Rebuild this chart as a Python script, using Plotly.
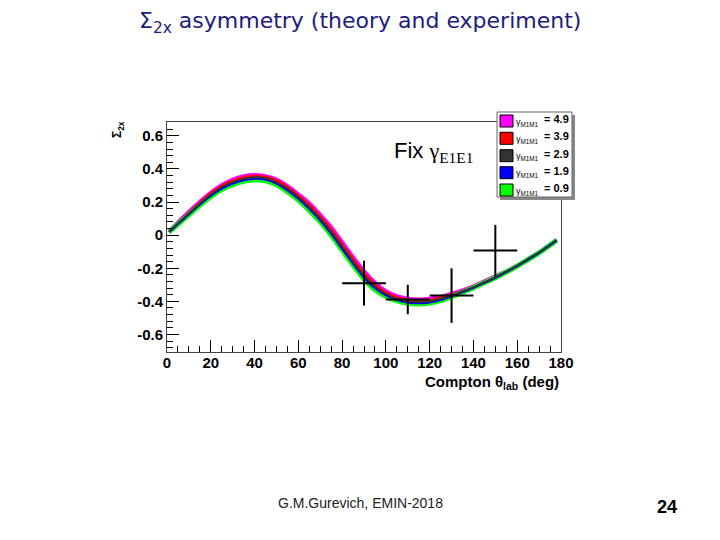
import plotly.graph_objects as go

# ---------------- data ----------------
theta = [1, 5, 10, 15, 20, 25, 30, 35, 40, 45, 50, 55, 60, 65, 70, 75, 80, 85, 90,
         95, 100, 105, 110, 115, 120, 125, 130, 135, 140, 145, 150, 155, 160, 165,
         170, 175, 178]

sig_m49 = [0.02, 0.075, 0.14, 0.20, 0.255, 0.30, 0.335, 0.355, 0.362, 0.355, 0.335,
           0.295, 0.245, 0.19, 0.12, 0.045, -0.045, -0.135, -0.22, -0.29, -0.34,
           -0.37, -0.385, -0.39, -0.385, -0.375, -0.355, -0.335, -0.31, -0.28,
           -0.25, -0.22, -0.185, -0.145, -0.105, -0.06, -0.03]
sig_m39 = [0.02, 0.072, 0.135, 0.195, 0.25, 0.295, 0.328, 0.348, 0.356, 0.35, 0.328,
           0.288, 0.238, 0.18, 0.11, 0.032, -0.058, -0.148, -0.232, -0.30, -0.348,
           -0.378, -0.392, -0.398, -0.393, -0.38, -0.36, -0.338, -0.312, -0.283,
           -0.253, -0.22, -0.185, -0.145, -0.105, -0.06, -0.03]
sig_m29 = [0.02, 0.07, 0.13, 0.19, 0.245, 0.29, 0.32, 0.34, 0.35, 0.345, 0.32,
           0.28, 0.23, 0.17, 0.10, 0.02, -0.07, -0.16, -0.245, -0.31, -0.355,
           -0.385, -0.40, -0.405, -0.40, -0.385, -0.365, -0.34, -0.315, -0.285,
           -0.255, -0.22, -0.185, -0.145, -0.105, -0.06, -0.03]
sig_m19 = [0.02, 0.068, 0.128, 0.186, 0.24, 0.283, 0.314, 0.334, 0.343, 0.338, 0.313,
           0.272, 0.222, 0.16, 0.09, 0.01, -0.08, -0.17, -0.255, -0.32, -0.362,
           -0.39, -0.405, -0.41, -0.405, -0.39, -0.368, -0.343, -0.317, -0.287,
           -0.256, -0.222, -0.186, -0.146, -0.106, -0.06, -0.03]
sig_m09 = [0.02, 0.065, 0.123, 0.18, 0.232, 0.275, 0.305, 0.325, 0.333, 0.328, 0.305,
           0.263, 0.212, 0.15, 0.08, 0.0, -0.09, -0.18, -0.265, -0.33, -0.37,
           -0.397, -0.412, -0.416, -0.41, -0.395, -0.372, -0.346, -0.318, -0.288,
           -0.257, -0.223, -0.187, -0.147, -0.107, -0.06, -0.03]

series_labels = ["4.9", "3.9", "2.9", "1.9", "0.9"]
series_colors = ["#ff00ff", "#ff0000", "#333333", "#0000ff", "#00ff00"]

exp_theta = [90, 110, 130, 150]
exp_sigma = [-0.29, -0.389, -0.365, -0.093]
exp_dtheta = [10, 10, 10, 10]
exp_dsigma = [0.135, 0.089, 0.165, 0.155]

y_ticks = [-0.6, -0.4, -0.2, 0, 0.2, 0.4, 0.6]
y_ticktext = ["-0.6", "-0.4", "-0.2", "0", "0.2", "0.4", "0.6"]
x_ticks = [0, 20, 40, 60, 80, 100, 120, 140, 160, 180]

# ---------------- figure ----------------
fig = go.Figure()

curves = {"4.9": sig_m49, "3.9": sig_m39, "2.9": sig_m29, "1.9": sig_m19, "0.9": sig_m09}
draw_order = ["4.9", "3.9", "0.9", "1.9", "2.9"]
widths = {"4.9": 4.5, "3.9": 3, "0.9": 5, "1.9": 2.5, "2.9": 1.8}
for lab in draw_order:
    col = series_colors[series_labels.index(lab)]
    fig.add_trace(go.Scatter(x=theta, y=curves[lab], mode="lines",
                             line=dict(color=col, width=widths[lab], shape="spline"),
                             showlegend=False, hoverinfo="skip"))

fig.add_trace(go.Scatter(
    x=exp_theta, y=exp_sigma, mode="markers", marker=dict(size=1, color="black"),
    error_x=dict(type="data", array=exp_dtheta, color="black", thickness=2, width=0),
    error_y=dict(type="data", array=exp_dsigma, color="black", thickness=2, width=0),
    showlegend=False, hoverinfo="skip"))

FONT = "Liberation Sans"
OFF = 8            # page body margin
W, H = 704, 524
PL, PR, PT, PB = 167, 561, 122, 352   # plot frame in screen pixels
fig.update_layout(
    width=W, height=H,
    margin=dict(l=PL - OFF, r=(W + OFF) - PR, t=PT - OFF, b=(H + OFF) - PB,
                autoexpand=False),
    paper_bgcolor="white", plot_bgcolor="white",
    showlegend=False,
    xaxis=dict(range=[0, 180], tickvals=x_ticks, ticks="inside", ticklen=12,
               tickcolor="black", tickwidth=1, ticklabelstandoff=-3,
               minor=dict(dtick=5, ticks="inside", ticklen=6, tickcolor="black"),
               showgrid=False, zeroline=False, showline=True, linecolor="#444",
               linewidth=1, mirror=True,
               tickfont=dict(family=FONT, size=15, color="black", weight="bold")),
    yaxis=dict(range=[-0.706, 0.684], tickvals=y_ticks, ticktext=y_ticktext,
               ticks="inside", ticklen=12, tickcolor="black", tickwidth=1,
               minor=dict(dtick=0.04, tick0=0, ticks="inside", ticklen=6, tickcolor="black"),
               showgrid=False, zeroline=False, showline=True, linecolor="#444",
               linewidth=1, mirror=True,
               tickfont=dict(family=FONT, size=15, color="black", weight="bold")),
)

def px2x(px):
    return (px - PL) / (PR - PL)

def py2y(py):
    return (PB - py) / (PB - PT)

ann = []
# title
ann.append(dict(x=px2x(360), y=py2y(22), xref="paper", yref="paper",
                text="Σ<sub>2x</sub> asymmetry (theory and experiment)",
                showarrow=False, xanchor="center", yanchor="middle",
                font=dict(family="DejaVu Sans", size=22, color="#1c1c7c")))
# y title
ann.append(dict(x=px2x(118), y=py2y(130), xref="paper", yref="paper",
                text="<b>Σ<sub>2x</sub></b>", textangle=-90, showarrow=False,
                xanchor="center", yanchor="middle",
                font=dict(family=FONT, size=12, color="black")))
# x title
ann.append(dict(x=px2x(561), y=py2y(382), xref="paper", yref="paper",
                text="<b>Compton θ<sub>lab</sub> (deg)</b>", showarrow=False,
                xanchor="right", yanchor="middle",
                font=dict(family=FONT, size=15, color="black")))
# Fix gamma
ann.append(dict(x=px2x(392), y=py2y(152), xref="paper", yref="paper",
                text="Fix <span style='font-family:Liberation Serif'>γ<sub>E1E1</sub></span>",
                showarrow=False, xanchor="left", yanchor="middle",
                font=dict(family=FONT, size=22, color="black")))
# footer
ann.append(dict(x=px2x(360), y=py2y(503), xref="paper", yref="paper",
                text="G.M.Gurevich, EMIN-2018", showarrow=False,
                xanchor="center", yanchor="middle",
                font=dict(family=FONT, size=14, color="#222")))
ann.append(dict(x=px2x(667), y=py2y(507), xref="paper", yref="paper",
                text="<b>24</b>", showarrow=False, xanchor="center", yanchor="middle",
                font=dict(family=FONT, size=18, color="black")))

shapes = []
# legend box with shadow
shapes.append(dict(type="rect", xref="paper", yref="paper",
                   x0=px2x(500), x1=px2x(575), y0=py2y(115), y1=py2y(200),
                   fillcolor="#888", line=dict(width=0), layer="above"))
shapes.append(dict(type="rect", xref="paper", yref="paper",
                   x0=px2x(497), x1=px2x(572), y0=py2y(112), y1=py2y(197),
                   fillcolor="white", line=dict(color="#666", width=1), layer="above"))
row_y = [121, 138.3, 155.7, 172.7, 190]
for lab, col, ry in zip(series_labels, series_colors, row_y):
    shapes.append(dict(type="rect", xref="paper", yref="paper",
                       x0=px2x(500), x1=px2x(513), y0=py2y(ry - 6), y1=py2y(ry + 6),
                       fillcolor=col, line=dict(color="black", width=1), layer="above"))
    ann.append(dict(x=px2x(514), y=py2y(ry + 1), xref="paper", yref="paper",
                    text="γ<sub>M1M1</sub>", showarrow=False,
                    xanchor="left", yanchor="middle",
                    font=dict(family=FONT, size=9, color="black")))
    ann.append(dict(x=px2x(571), y=py2y(ry - 2), xref="paper", yref="paper",
                    text="<b>= " + lab + "</b>", showarrow=False,
                    xanchor="right", yanchor="middle",
                    font=dict(family=FONT, size=11, color="black")))

fig.update_layout(annotations=ann, shapes=shapes)
fig.write_html("out.html")
